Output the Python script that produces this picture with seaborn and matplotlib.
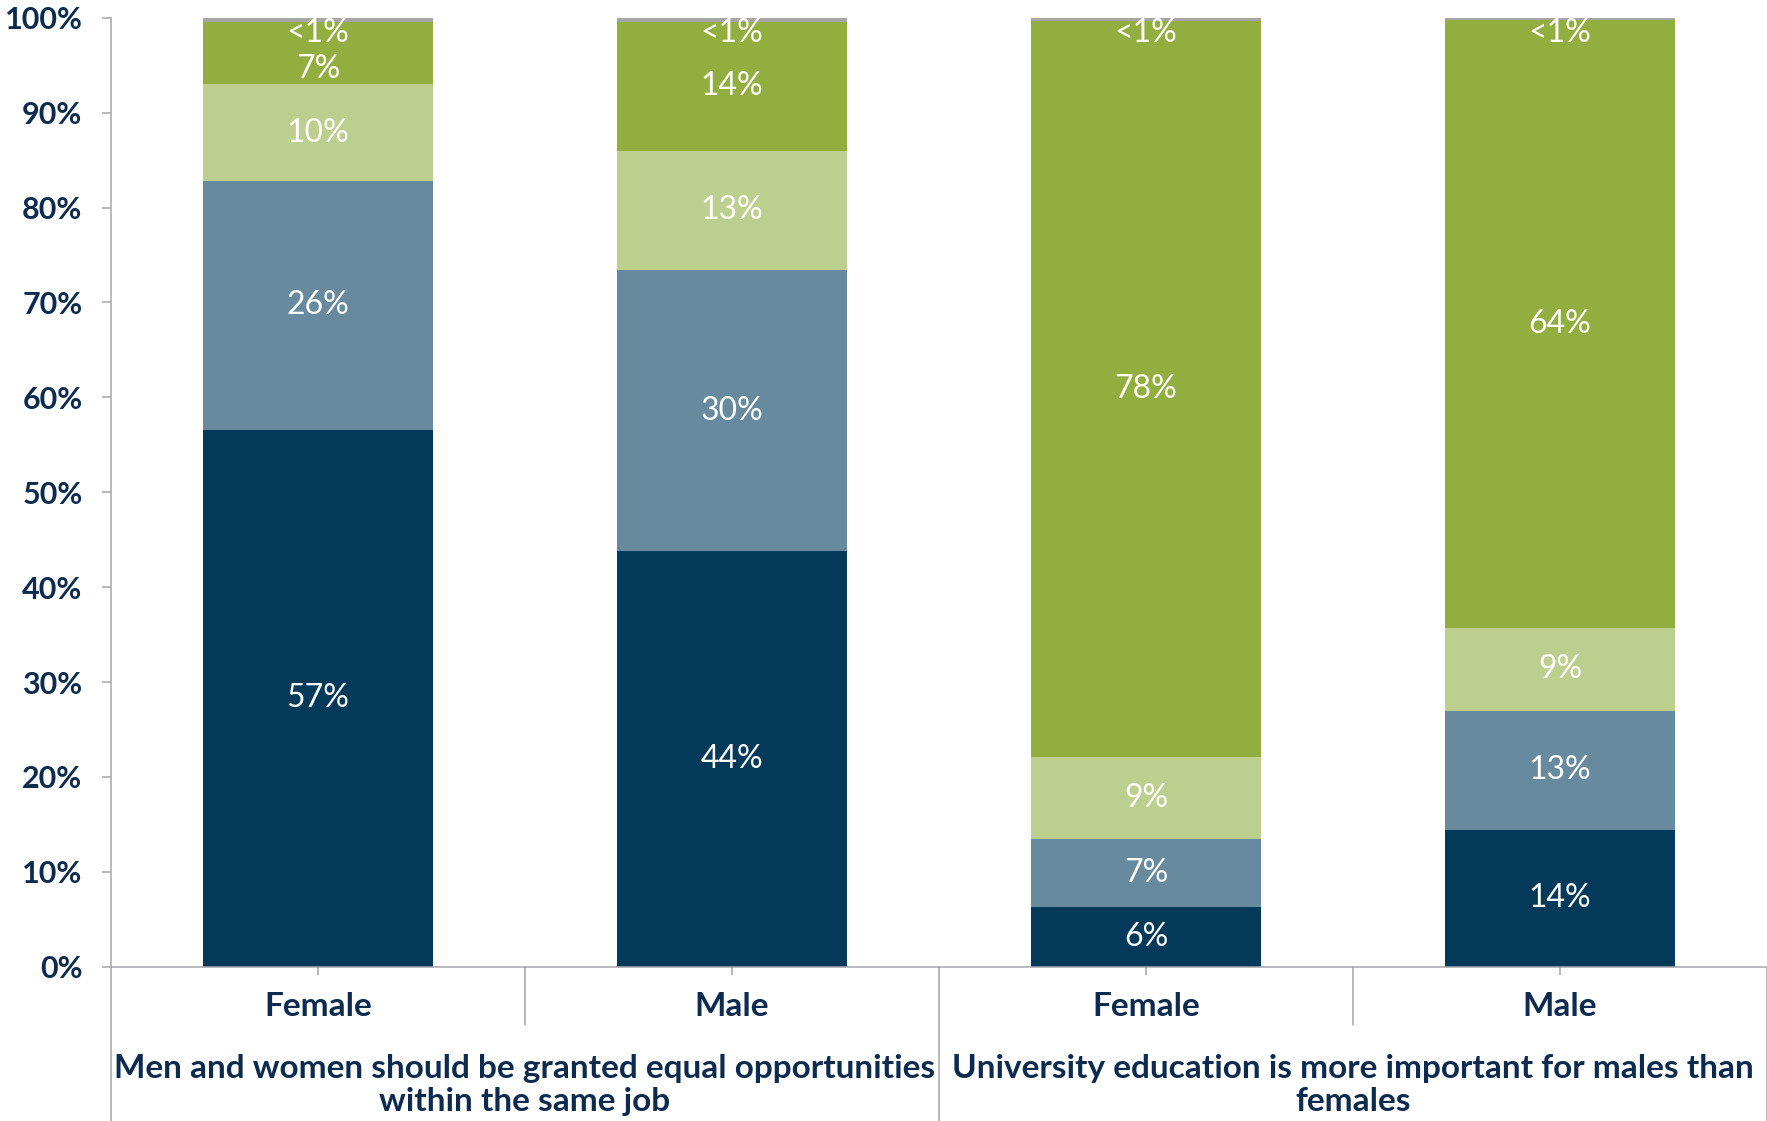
import matplotlib
matplotlib.use("Agg")
import matplotlib.pyplot as plt
import matplotlib.transforms as mtransforms
import numpy as np
import pandas as pd
import seaborn as sns


# Bars (two statements x two genders), left to right
bar_labels = ["Female", "Male", "Female", "Male"]
statements = [
    "Men and women should be granted equal opportunities\nwithin the same job",
    "University education is more important for males than\nfemales",
]

# Share of answers per bar, bottom segment first (percent)
strongly_agree = [56.6, 43.8, 6.3, 14.4]
agree = [26.2, 29.6, 7.2, 12.6]
disagree = [10.2, 12.6, 8.6, 8.7]
strongly_disagree = [6.6, 13.6, 77.6, 64.1]
no_answer = [0.4, 0.4, 0.3, 0.2]

responses = ["Strongly agree", "Agree", "Disagree", "Strongly disagree", "No answer"]
colors = ["#033a5a", "#678a9e", "#bdcf8e", "#92ae3f", "#a6a6a6"]

navy_text = "#0c2b4e"
axis_grey = "#a5a5ab"


def build_frame():
    rows = []
    series = [strongly_agree, agree, disagree, strongly_disagree, no_answer]
    for i, lab in enumerate(bar_labels):
        bottom = 0.0
        for resp, vals in zip(responses, series):
            v = vals[i]
            rows.append(
                {"bar": f"b{i}", "response": resp, "value": v,
                 "bottom": bottom, "top": bottom + v}
            )
            bottom += v
    return pd.DataFrame(rows)


df = build_frame()
order = [f"b{i}" for i in range(len(bar_labels))]

sns.set_style("white")
fig = plt.figure(figsize=(17.67, 11.21), dpi=100)
ax = fig.add_axes([0.0628, 0.1376, 0.9372, 0.8466])

# draw cumulative tops, largest first, so each layer covers the ones below
for resp, col in reversed(list(zip(responses, colors))):
    sub = df[df["response"] == resp]
    sns.barplot(
        data=sub, x="bar", y="top", order=order, color=col,
        saturation=1, width=0.555, linewidth=0, ax=ax, errorbar=None,
    )

# value labels
for _, r in df.iterrows():
    x = order.index(r["bar"])
    if r["value"] < 1:
        txt, y = "<1%", 98.4
    else:
        txt = f"{r['value']:.0f}%"
        y = min((r["bottom"] + r["top"]) / 2, 94.6)
    ax.text(x, y, txt, ha="center", va="center", color="white",
            fontsize=23, family=["Lato", "DejaVu Sans"])

ax.set_ylim(0, 100)
ax.set_xlim(-0.5, len(bar_labels) - 0.5)
ax.set_xlabel("")
ax.set_ylabel("")

ax.set_yticks(np.arange(0, 101, 10))
ax.set_yticklabels([f"{v}%" for v in range(0, 101, 10)],
                   family=["Lato", "DejaVu Sans"], fontweight="bold",
                   fontsize=22, color=navy_text)
ax.set_xticks(range(len(bar_labels)))
ax.set_xticklabels(bar_labels, family=["Lato", "DejaVu Sans"],
                   fontweight="bold", fontsize=24, color=navy_text)

ax.tick_params(axis="y", length=6.5, width=1.1, color=axis_grey, pad=14, left=True)
ax.tick_params(axis="x", length=6, width=1.1, color=axis_grey, pad=12.5, bottom=True)

for side in ["top", "right"]:
    ax.spines[side].set_visible(False)
for side in ["left", "bottom"]:
    ax.spines[side].set_color(axis_grey)
    ax.spines[side].set_linewidth(1.1)

# category separators below the axis
trans = mtransforms.blended_transform_factory(ax.transData, ax.transAxes)
for xs in [0.5, 2.5]:
    ax.plot([xs, xs], [0, -0.0614], transform=trans, color=axis_grey,
            lw=1.1, clip_on=False)
for xs in [-0.5, 1.5, 3.5]:
    ax.plot([xs, xs], [0, -0.17], transform=trans, color=axis_grey,
            lw=1.1, clip_on=False)

# statement labels
for g, text in enumerate(statements):
    ax.text(g * 2 + 0.5, -0.1245, text, transform=trans, ha="center",
            va="center", fontsize=24, fontweight="bold", color=navy_text,
            family=["Lato", "DejaVu Sans"], linespacing=1.2)

fig.savefig("out.png", dpi=100)
